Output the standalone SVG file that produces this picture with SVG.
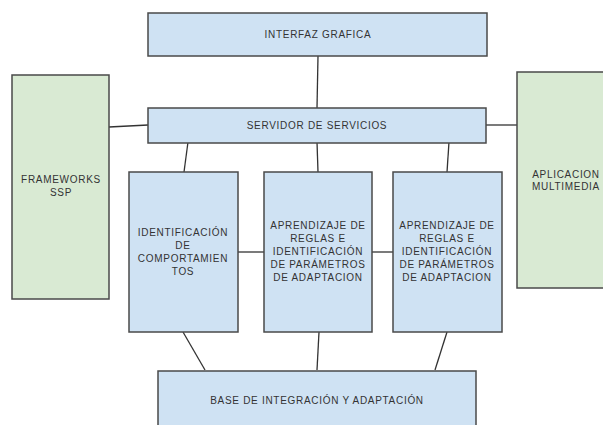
<svg xmlns="http://www.w3.org/2000/svg" width="603" height="425" viewBox="0 0 603 425">
<style>
.blue{fill:#cfe2f3;stroke:#4a4a4a;stroke-width:1.5}
.green{fill:#d9ead3;stroke:#4a4a4a;stroke-width:1.5}
.t{font-family:"Liberation Sans",Arial,sans-serif;font-size:10px;fill:#333333;text-anchor:middle;letter-spacing:0.7px}
.c{stroke:#333333;stroke-width:1.3;fill:none}
</style>
<rect width="603" height="425" fill="#ffffff"/>
<g id="connectors">
<line class="c" x1="318" y1="56" x2="317" y2="108"/>
<line class="c" x1="109" y1="127" x2="148" y2="125"/>
<line class="c" x1="486" y1="125" x2="517" y2="125"/>
<line class="c" x1="188" y1="142" x2="184" y2="172"/>
<line class="c" x1="317" y1="142" x2="318" y2="172"/>
<line class="c" x1="449" y1="142" x2="447" y2="172"/>
<line class="c" x1="238" y1="252" x2="264" y2="252"/>
<line class="c" x1="372" y1="252" x2="393" y2="252"/>
<line class="c" x1="183" y1="332" x2="205" y2="370"/>
<line class="c" x1="319" y1="332" x2="317" y2="370"/>
<line class="c" x1="447" y1="332" x2="435" y2="370"/>
</g>
<g id="interfaz">
<rect class="blue" x="148" y="13" width="339" height="43"/>
<text class="t" x="318" y="38">INTERFAZ GRAFICA</text>
</g>
<g id="servidor">
<rect class="blue" x="148" y="108" width="338" height="35"/>
<text class="t" x="317" y="129">SERVIDOR DE SERVICIOS</text>
</g>
<g id="frameworks">
<rect class="green" x="12" y="75" width="97" height="224"/>
<text class="t" x="61" y="183">FRAMEWORKS</text>
<text class="t" x="61" y="196">SSP</text>
</g>
<g id="aplicacion">
<rect class="green" x="517" y="72" width="100" height="216"/>
<text class="t" x="566" y="178">APLICACION</text>
<text class="t" x="566" y="190">MULTIMEDIA</text>
</g>
<g id="identificacion">
<rect class="blue" x="129" y="172" width="109" height="160"/>
<text class="t" x="183" y="236">IDENTIFICACIÓN</text>
<text class="t" x="183" y="249">DE</text>
<text class="t" x="183" y="262">COMPORTAMIEN</text>
<text class="t" x="183" y="275">TOS</text>
</g>
<g id="aprendizaje1">
<rect class="blue" x="264" y="172" width="108" height="160"/>
<text class="t" x="318" y="229">APRENDIZAJE DE</text>
<text class="t" x="318" y="242">REGLAS E</text>
<text class="t" x="318" y="255">IDENTIFICACIÓN</text>
<text class="t" x="318" y="268">DE PARÁMETROS</text>
<text class="t" x="318" y="281">DE ADAPTACION</text>
</g>
<g id="aprendizaje2">
<rect class="blue" x="393" y="172" width="109" height="160"/>
<text class="t" x="447" y="229">APRENDIZAJE DE</text>
<text class="t" x="447" y="242">REGLAS E</text>
<text class="t" x="447" y="255">IDENTIFICACIÓN</text>
<text class="t" x="447" y="268">DE PARÁMETROS</text>
<text class="t" x="447" y="281">DE ADAPTACION</text>
</g>
<g id="base">
<rect class="blue" x="158" y="371" width="318" height="70"/>
<text class="t" x="317" y="404">BASE DE INTEGRACIÓN Y ADAPTACIÓN</text>
</g>
</svg>
